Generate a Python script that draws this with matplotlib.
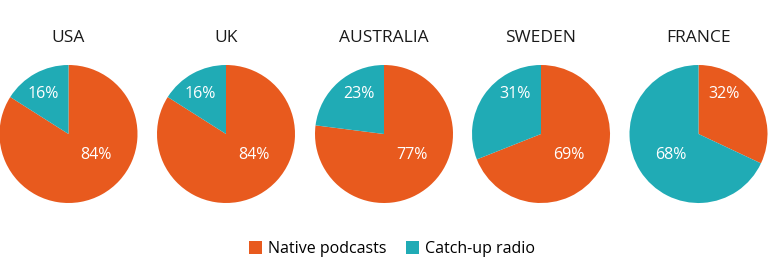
import matplotlib
matplotlib.use("Agg")
from matplotlib import pyplot as plt
from matplotlib.patches import Patch

countries = ["USA", "UK", "AUSTRALIA", "SWEDEN", "FRANCE"]
native = [84, 84, 77, 69, 32]
catchup = [16, 16, 23, 31, 68]
series = ["Native podcasts", "Catch-up radio"]
colors = ["#E85A1E", "#20ABB5"]

plt.rcParams['font.family'] = ['Open Sans', 'DejaVu Sans']

W, H = 768, 266
fig = plt.figure(figsize=(W / 100, H / 100), dpi=100)

centers = [68.5, 226, 384, 541, 698.5]
cy = 134
r = 69

for i in range(len(countries)):
    cx = centers[i]
    ax = fig.add_axes([(cx - r) / W, (H - cy - r) / H, 2 * r / W, 2 * r / H])
    wedges, texts, pcts = ax.pie([native[i], catchup[i]], colors=colors, startangle=90,
                                 counterclock=False, autopct='%d%%', pctdistance=0.6,
                                 textprops={'color': 'white', 'fontsize': 11.5})
    # labels sit at fixed spots: the small slice up top, the big one lower down
    side = 1 if native[i] < catchup[i] else -1
    vals = [native[i], catchup[i]]
    for k, t in enumerate(pcts):
        if vals[k] < 50:
            t.set_position((side * 0.37, 0.58))
        else:
            t.set_position((-side * 0.4, -0.31))
    ax.set_xlim(-1, 1)
    ax.set_ylim(-1, 1)
    ax.set_aspect('equal')
    fig.text(cx / W, (H - 38) / H, countries[i], ha='center', va='center',
             fontsize=12.5, color='#1a1a1a')

handles = [Patch(facecolor=c, edgecolor='none') for c in colors]
fig.legend(handles, series, loc='center', bbox_to_anchor=(392 / W, (H - 249) / H),
           ncol=2, frameon=False, fontsize=11.5, handlelength=0.8, handleheight=0.8,
           handletextpad=0.4, columnspacing=1.2)

fig.savefig("out.png", dpi=100)
